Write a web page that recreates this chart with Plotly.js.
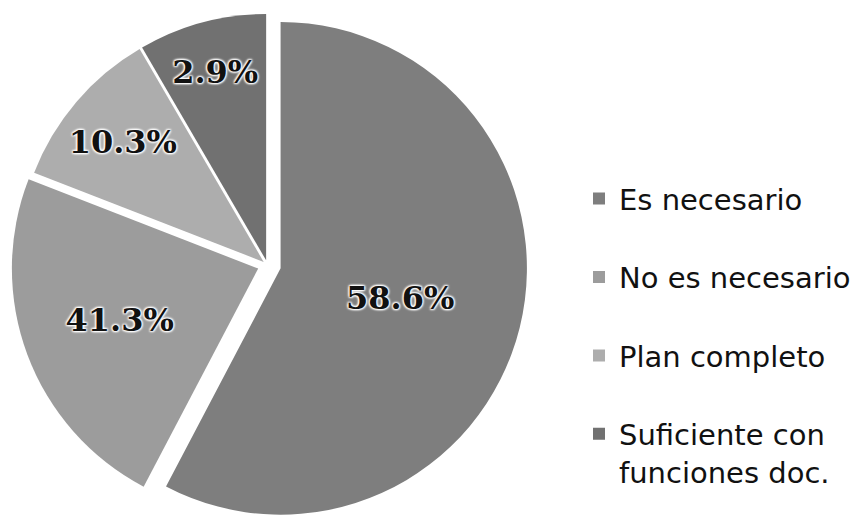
<!DOCTYPE html>
<html>
<head>
<meta charset="utf-8">
<script src="https://cdn.plot.ly/plotly-3.0.1.min.js"></script>
<style>html,body{margin:0;padding:0;background:#fff;}#chart{width:856px;height:525px;}</style>
</head>
<body>
<div id="chart"></div>
<script>
// Categories (legend order, clockwise from 12 o'clock)
const categories = ["Es necesario", "No es necesario", "Plan completo", "Suficiente con<br>funciones doc."];
// Slice shares as drawn in the picture (angles, %)
const sliceShares = [57.7, 23.2, 10.7, 8.4];
// Percent labels printed on the slices
const sliceLabels = ["58.6%", "41.3%", "10.3%", "2.9%"];

const sliceColors = ["#7e7e7e", "#9c9c9c", "#adadad", "#717171"];
const pulls = [0.055, 0.04, 0.02, 0.02];

// spacing lines so legend entries are spread out as in the original
const legendLabels = categories.map((c, i) => i < categories.length - 1 ? c + "<br>&nbsp;" : c);

const trace = {
  type: "pie",
  labels: legendLabels,
  values: sliceShares,
  text: sliceLabels,
  textinfo: "text",
  textposition: "inside",
  insidetextorientation: "horizontal",
  sort: false,
  direction: "clockwise",
  rotation: 0,
  pull: pulls,
  marker: { colors: sliceColors, line: { color: "#ffffff", width: 0 } },
  textfont: { family: "DejaVu Serif", size: 32, weight: 900, color: "#111111",
              shadow: "1px 1px 2px #fff, -1px -1px 2px #fff, 1px -1px 2px #fff, -1px 1px 2px #fff" },
  domain: { x: [0, 0.63], y: [0, 0.99] },
  hoverinfo: "label+text"
};

const layout = {
  width: 856, height: 525,
  margin: { l: 0, r: 0, t: 0, b: 0 },
  paper_bgcolor: "#ffffff",
  showlegend: true,
  legend: {
    x: 0.682, y: 0.67, xanchor: "left", yanchor: "top",
    valign: "top",
    font: { family: "DejaVu Sans", size: 29, color: "#111111" },
    bgcolor: "rgba(0,0,0,0)"
  }
};

Plotly.newPlot("chart", [trace], layout, { staticPlot: true });
</script>
</body>
</html>
